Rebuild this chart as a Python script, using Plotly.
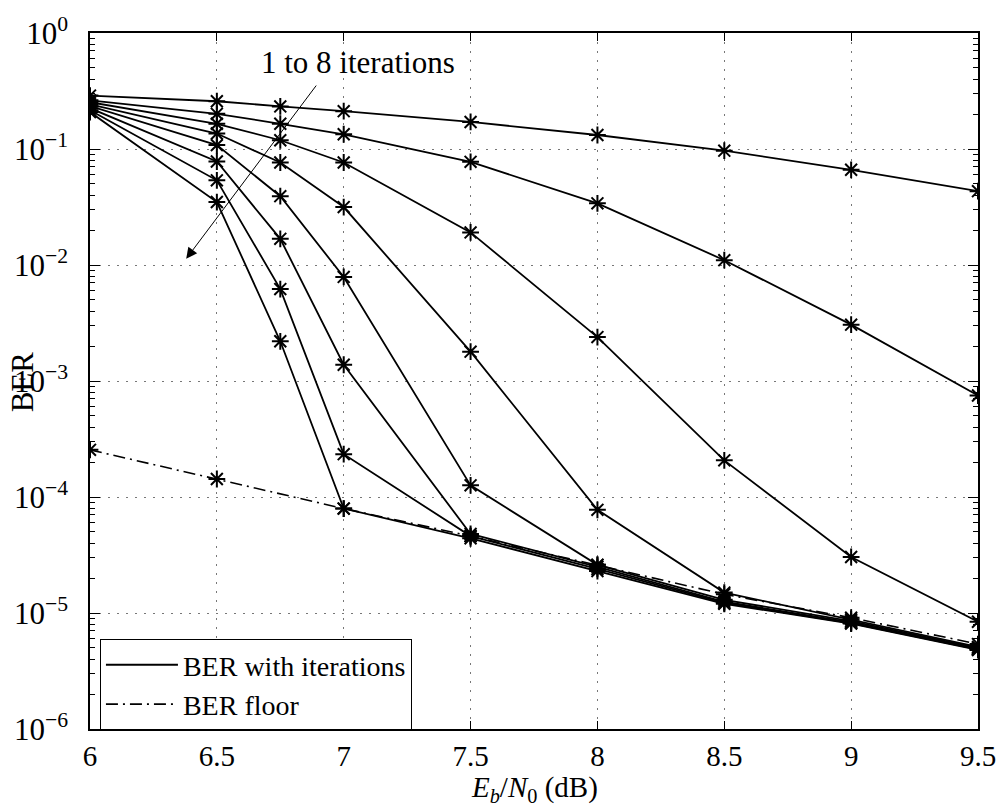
import math
import plotly.graph_objects as go

# ---- data ----
ebn0 = [6, 6.5, 6.75, 7, 7.5, 8, 8.5, 9, 9.5]
ber_it1 = [0.289, 0.258, 0.233, 0.212, 0.171, 0.132, 0.0968, 0.0662, 0.0433]
ber_it2 = [0.263, 0.201, 0.165, 0.134, 0.0775, 0.034, 0.011, 0.00306, 0.00075]
ber_it3 = [0.253, 0.165, 0.119, 0.0765, 0.0191, 0.00239, 2.07e-4, 3.04e-5, 8.4e-6]
ber_it4 = [0.243, 0.136, 0.0765, 0.0316, 0.00179, 7.75e-5, 1.5e-5, 8.8e-6, 5.1e-6]
ber_it5 = [0.234, 0.108, 0.0392, 0.00789, 1.26e-4, 2.6e-5, 1.3e-5, 8.5e-6, 5.0e-6]
ber_it6 = [0.225, 0.078, 0.0168, 0.00138, 4.8e-5, 2.5e-5, 1.25e-5, 8.3e-6, 4.9e-6]
ber_it7 = [0.216, 0.0537, 0.0062, 2.34e-4, 4.6e-5, 2.4e-5, 1.22e-5, 8.2e-6, 4.85e-6]
ber_it8 = [0.208, 0.0349, 0.0022, 7.95e-5, 4.4e-5, 2.3e-5, 1.2e-5, 8.1e-6, 4.8e-6]
iteration_curves = [ber_it1, ber_it2, ber_it3, ber_it4, ber_it5, ber_it6, ber_it7, ber_it8]

floor_x = [6, 6.5, 7, 7.5, 8, 8.5, 9, 9.5]
floor_ber = [2.55e-4, 1.43e-4, 7.95e-5, 4.6e-5, 2.6e-5, 1.45e-5, 9.1e-6, 5.4e-6]

x_ticks = [6, 6.5, 7, 7.5, 8, 8.5, 9, 9.5]
x_ticktext = ["6", "6.5", "7", "7.5", "8", "8.5", "9", "9.5"]
y_ticks = [1e-6, 1e-5, 1e-4, 1e-3, 1e-2, 1e-1, 1]
y_ticktext = ["10<sup>\u22126</sup>", "10<sup>\u22125</sup>", "10<sup>\u22124</sup>",
              "10<sup>\u22123</sup>", "10<sup>\u22122</sup>", "10<sup>\u22121</sup>", "10<sup>0</sup>"]
y_minor_ticks = [k * 10.0 ** e for e in range(-6, 0) for k in range(2, 10)]

FONT = "Liberation Serif"
FS = 31
DASHDOT = "12px,5px,2px,5px"
GRIDDASH = "1.5px,7.5px"

fig = go.Figure()

marker = dict(symbol="asterisk-open", size=14, color="black",
              line=dict(color="black", width=2))

fig.add_trace(go.Scatter(x=floor_x, y=floor_ber, mode="lines+markers",
                         line=dict(color="black", width=1.6, dash=DASHDOT),
                         marker=marker, showlegend=False))
for c in iteration_curves:
    fig.add_trace(go.Scatter(x=ebn0, y=c, mode="lines+markers",
                             line=dict(color="black", width=1.8),
                             marker=marker, showlegend=False))

# legend proxies
fig.add_trace(go.Scatter(x=[None], y=[None], mode="lines", name="BER with iterations",
                         line=dict(color="black", width=1.8)))
fig.add_trace(go.Scatter(x=[None], y=[None], mode="lines", name="BER floor",
                         line=dict(color="black", width=1.6, dash=DASHDOT)))

fig.update_layout(
    width=1008, height=812,
    margin=dict(l=90, r=25, t=25, b=83),
    paper_bgcolor="white", plot_bgcolor="white",
    font=dict(family=FONT, size=FS, color="black"),
    legend=dict(x=0.0112, y=(729 - 638) / 704, xanchor="left", yanchor="top",
                bgcolor="white", bordercolor="black", borderwidth=1,
                font=dict(family=FONT, size=28), tracegroupgap=0,
                itemwidth=72),
)

fig.update_xaxes(
    range=[6, 9.5], tickvals=x_ticks, ticktext=x_ticktext,
    showline=True, linecolor="black", linewidth=1.5, mirror="ticks",
    ticks="inside", ticklen=8, tickcolor="black", tickwidth=1,
    showgrid=True, gridcolor="#777777", griddash=GRIDDASH, gridwidth=1,
    zeroline=False, ticklabelstandoff=0,
    tickfont=dict(family=FONT, size=29),
)
fig.update_yaxes(
    type="log", range=[-6, 0], tickvals=y_ticks, ticktext=y_ticktext,
    showline=True, linecolor="black", linewidth=1.5, mirror="ticks",
    ticks="inside", ticklen=10, tickcolor="black", tickwidth=1,
    minor=dict(ticks="inside", ticklen=5, tickcolor="black", tickwidth=1,
               tickmode="array", tickvals=y_minor_ticks, showgrid=False),
    showgrid=True, gridcolor="#777777", griddash=GRIDDASH, gridwidth=1,
    zeroline=False, ticklabelstandoff=14,
    tickfont=dict(family=FONT, size=FS),
)

# x label
fig.add_annotation(text="<i>E</i><sub><i>b</i></sub>/<i>N</i><sub>0</sub> (dB)",
                   xref="paper", yref="paper", x=0.5, y=-(810 - 729) / 704,
                   xanchor="center", yanchor="bottom", showarrow=False,
                   font=dict(family=FONT, size=29))

# y label
fig.add_annotation(text="BER", xref="paper", yref="paper", x=-0.075, y=0.4986,
                   xanchor="center", yanchor="middle", textangle=-90, showarrow=False,
                   font=dict(family=FONT, size=FS))

# "1 to 8 iterations" label and arrow
fig.add_annotation(text="1 to 8 iterations", xref="x", yref="y", x=7.055, y=-0.256,
                   xanchor="center", yanchor="middle", showarrow=False,
                   font=dict(family=FONT, size=FS))
fig.add_annotation(text="", xref="x", yref="y", x=6.379, y=math.log10(0.0113),
                   axref="x", ayref="y", ax=6.896, ay=math.log10(0.363),
                   showarrow=True, arrowhead=2, arrowsize=2.2, arrowwidth=1,
                   arrowcolor="black")

fig.write_html("out.html")
